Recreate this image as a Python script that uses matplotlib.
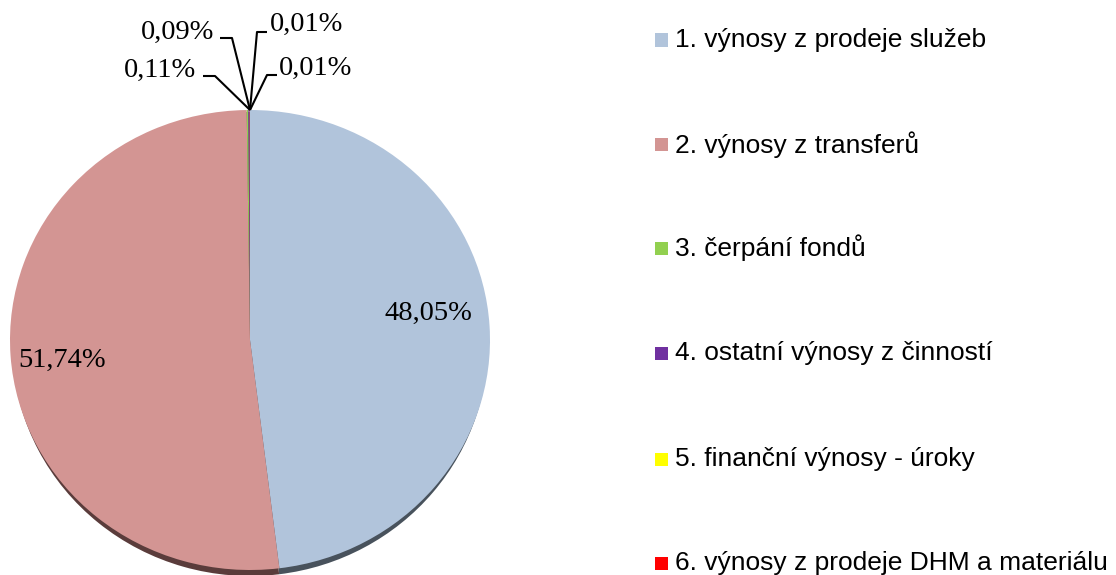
import matplotlib
matplotlib.use("Agg")
import matplotlib.pyplot as plt
from matplotlib.patches import Rectangle
import numpy as np

categories = ["1. výnosy z prodeje služeb", "2. výnosy z transferů", "3. čerpání fondů",
              "4. ostatní výnosy z činností", "5. finanční výnosy - úroky",
              "6. výnosy z prodeje DHM a materiálu"]
values = [48.05, 51.74, 0.11, 0.09, 0.01, 0.01]
labels = ["48,05%", "51,74%", "0,11%", "0,09%", "0,01%", "0,01%"]
colors = ["#b1c4db", "#d39593", "#92d050", "#7030a0", "#ffff00", "#ff0000"]
shadow_colors = ["#48525c", "#5a3c3b", "#3a4a2a", "#3a2a4a", "#555530", "#552020"]

W, H = 1116, 575
fig = plt.figure(figsize=(W / 100, H / 100), dpi=100)

CX, CY, RX, RY = 250, 340, 240, 230  # pie centre / radii in pixels (from top)
SCX, SCY, SRX, SRY = 250, 344, 238, 232  # shadow ellipse

# shadow axes
axs = fig.add_axes([(SCX - SRX) / W, (H - SCY - SRY) / H, 2 * SRX / W, 2 * SRY / H], zorder=0)
axs.pie(values, startangle=90, counterclock=False, colors=shadow_colors,
        radius=1.0, wedgeprops=dict(linewidth=0))
axs.set_xlim(-1, 1)
axs.set_ylim(-1, 1)
axs.set_aspect("auto")
axs.axis("off")

ax = fig.add_axes([0, 0, 1, 1], zorder=1)
ax.patch.set_visible(False)


def px(xp, yp):
    return (xp - CX) / RX, (CY - yp) / RY


ax.pie(values, startangle=90, counterclock=False, colors=colors,
       radius=1.0, wedgeprops=dict(linewidth=0))

ax.set_xlim(px(0, 0)[0], px(W, 0)[0])
ax.set_ylim(px(0, H)[1], px(0, 0)[1])
ax.set_aspect("auto")
ax.axis("off")

serif = dict(family="Liberation Serif", fontsize=20.5, color="black")

# big labels
x, y = px(428, 313)
ax.text(x, y, labels[0], ha="center", va="center", **serif)
x, y = px(62, 360)
ax.text(x, y, labels[1], ha="center", va="center", **serif)

apex = (0, 1)
# small labels with leader lines: (text centre, line path points)
small = [
    (labels[2], (160, 70), [(203, 76), (215, 76)]),
    (labels[3], (178, 32), [(220, 38), (232, 38)]),
    (labels[4], (307, 24), [(267, 32), (257, 32)]),
    (labels[5], (316, 68), [(277, 75), (267, 75)]),
]
for lab, (tx, ty), pts in small:
    x, y = px(tx, ty)
    ax.text(x, y, lab, ha="center", va="center", **serif)
    xs = [px(*p)[0] for p in pts] + [apex[0]]
    ys = [px(*p)[1] for p in pts] + [apex[1]]
    ax.plot(xs, ys, color="black", lw=1.5, solid_capstyle="butt", clip_on=False)

# legend
leg_y = [40, 145, 248, 353, 459, 563]
for cat, col, ly in zip(categories, colors, leg_y):
    fig.add_artist(Rectangle((655 / W, 1 - (ly + 6.5) / H), 13 / W, 13 / H,
                             transform=fig.transFigure, facecolor=col, edgecolor="none"))
    fig.text(675 / W, 1 - ly / H, cat, ha="left", va="center",
             family="Liberation Sans", fontsize=19, color="black")

fig.savefig("out.png", dpi=100)
